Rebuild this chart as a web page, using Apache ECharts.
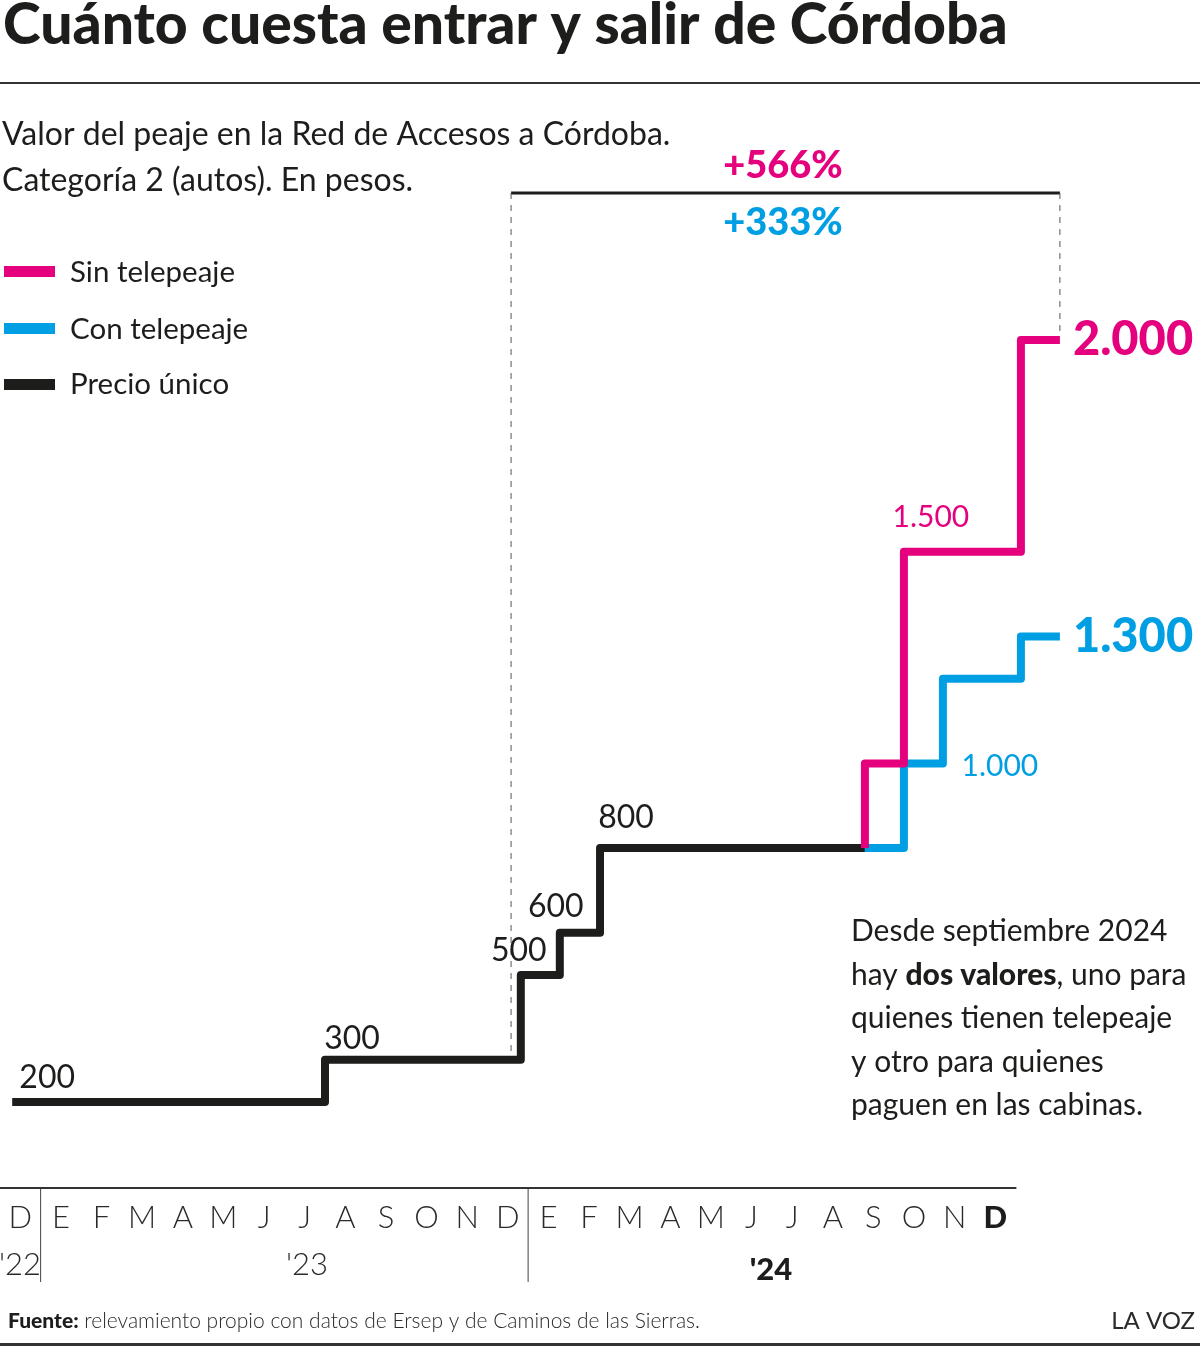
<!DOCTYPE html>
<html>
<head>
<meta charset="utf-8">
<script src="https://cdn.jsdelivr.net/npm/echarts@6/dist/echarts.min.js"></script>
<style>
  html, body { margin: 0; padding: 0; background: #fff; }
  #chart { width: 1200px; height: 1347px; }
</style>
</head>
<body>
<div id="chart"></div>
<script>
// meses: eje x en meses desde el 1 de diciembre de 2022
const months = ['D', 'E', 'F', 'M', 'A', 'M', 'J', 'J', 'A', 'S', 'O', 'N', 'D',
  'E', 'F', 'M', 'A', 'M', 'J', 'J', 'A', 'S', 'O', 'N', 'D']
const years = ["'22", "'23", "'24"]
// índices de mes donde empieza un año nuevo (divisores)
const yearStarts = [1, 13]

// precio único
const unicoX = [0.3, 8.0, 12.82, 13.78, 14.77, 21.29]
const unicoV = [200, 300, 500, 600, 800, 800]
// sin telepeaje
const sinX = [21.29, 21.29, 22.25, 25.13, 26.09]
const sinV = [800, 1000, 1500, 2000, 2000]
// con telepeaje
const conX = [21.29, 22.25, 23.21, 25.13, 26.09]
const conV = [800, 1000, 1200, 1300, 1300]

const MAGENTA = '#e5007d'
const BLUE = '#009fe3'
const BLACK = '#1d1d1b'
const FONT = 'Lato'

// geometría del área de datos
const G = { left: 0, top: 128.4, width: 1096.875, height: 1058.33 }
const X_MAX = 27
const Y_MAX = 2500
const px = (x) => G.left + x / X_MAX * G.width
const py = (v) => G.top + G.height - v / Y_MAX * G.height
// grilla del eje de meses
const M = { left: 0, top: 1150, width: 1015.6, height: 38 }

function fmt (v) {
  return String(v).replace(/\B(?=(\d{3})+(?!\d))/g, '.')
}

function pts (xs, vs, labels) {
  return xs.map((x, i) => {
    const item = { value: [x, vs[i]] }
    if (labels[i]) {
      item.label = Object.assign({ show: true, formatter: fmt(vs[i]) }, labels[i])
    }
    return item
  })
}

const small = (color, dx, dy, size) => ({
  position: 'inside', offset: [dx, dy], color, fontSize: size || 32, fontFamily: FONT, fontWeight: 400
})
const big = (color) => ({
  position: 'right', distance: 13, color, fontSize: 47, fontFamily: FONT, fontWeight: 900
})

const unicoLabels = [small(BLACK, 35, -24), small(BLACK, 27, -21), small(BLACK, -2, -24),
  small(BLACK, -4, -26), small(BLACK, 26, -30)]
const sinLabels = [null, null, small(MAGENTA, 27, -34, 30), null, big(MAGENTA)]
const conLabels = [null, small(BLUE, 96, 3, 30), null, null, big(BLUE)]

const base = unicoV[1]
const pct = (v) => '+' + Math.floor((v / base - 1) * 100) + '%'

const chart = echarts.init(document.getElementById('chart'))

const bx0 = px(12.58)
const bx1 = px(sinX[sinX.length - 1])
const by = 193

const lineSeries = (name, xs, vs, labels, color, z) => ({
  name,
  type: 'line',
  xAxisIndex: 0,
  yAxisIndex: 0,
  step: 'end',
  symbol: 'circle',
  symbolSize: 0.01,
  showSymbol: true,
  z,
  lineStyle: { color, width: 8, join: 'round', cap: 'butt' },
  itemStyle: { color },
  label: { show: false },
  emphasis: { disabled: true },
  data: pts(xs, vs, labels)
})

const dividers = yearStarts.map((i) => {
  const x = M.left + i * M.width / months.length
  return { type: 'line', shape: { x1: x, y1: M.top + M.height, x2: x, y2: 1282 }, style: { stroke: '#444', lineWidth: 1 } }
})

chart.setOption({
  animation: false,
  backgroundColor: '#fff',
  grid: [
    { left: G.left, top: G.top, width: G.width, height: G.height },
    { left: M.left, top: M.top, width: M.width, height: M.height }
  ],
  xAxis: [
    { gridIndex: 0, type: 'value', min: 0, max: X_MAX, show: false },
    {
      gridIndex: 1,
      type: 'category',
      data: months,
      boundaryGap: true,
      axisLine: { lineStyle: { color: '#333', width: 2 } },
      axisTick: { show: false },
      axisLabel: {
        interval: 0,
        margin: 14,
        color: '#2a2a2a',
        fontFamily: FONT,
        fontWeight: 300,
        fontSize: 31,
        formatter: (v, i) => i === months.length - 1 ? '{b|' + v + '}' : v,
        rich: { b: { fontFamily: FONT, fontWeight: 900, fontSize: 31, color: BLACK } }
      }
    }
  ],
  yAxis: [
    { gridIndex: 0, type: 'value', min: 0, max: Y_MAX, show: false },
    { gridIndex: 1, type: 'value', show: false }
  ],
  series: [
    lineSeries('Precio único', unicoX, unicoV, unicoLabels, BLACK, 3),
    lineSeries('Con telepeaje', conX, conV, conLabels, BLUE, 4),
    lineSeries('Sin telepeaje', sinX, sinV, sinLabels, MAGENTA, 5)
  ],
  graphic: dividers.concat([
    // título
    { type: 'text', left: 3, top: -3, style: { text: 'Cuánto cuesta entrar y salir de Córdoba', fill: BLACK, font: '900 57px ' + FONT } },
    { type: 'rect', shape: { x: 0, y: 82, width: 1200, height: 2 }, style: { fill: '#333' } },
    // bajada
    { type: 'text', left: 2, top: 112, style: { text: 'Valor del peaje en la Red de Accesos a Córdoba.\nCategoría 2 (autos). En pesos.', fill: BLACK, font: '400 32px ' + FONT, lineHeight: 46 } },
    // leyenda
    { type: 'rect', shape: { x: 4, y: 266, width: 51, height: 11 }, style: { fill: MAGENTA } },
    { type: 'rect', shape: { x: 4, y: 323, width: 51, height: 11 }, style: { fill: BLUE } },
    { type: 'rect', shape: { x: 4, y: 379, width: 51, height: 11 }, style: { fill: BLACK } },
    { type: 'text', x: 70, y: 272, style: { text: 'Sin telepeaje', fill: BLACK, font: '400 29.5px ' + FONT, verticalAlign: 'middle' } },
    { type: 'text', x: 70, y: 329, style: { text: 'Con telepeaje', fill: BLACK, font: '400 29.5px ' + FONT, verticalAlign: 'middle' } },
    { type: 'text', x: 70, y: 384, style: { text: 'Precio único', fill: BLACK, font: '400 29.5px ' + FONT, verticalAlign: 'middle' } },
    // corchete de variación
    { type: 'line', z: 1, shape: { x1: bx0, y1: by, x2: bx1, y2: by }, style: { stroke: BLACK, lineWidth: 3 } },
    { type: 'line', z: 1, shape: { x1: bx0, y1: by, x2: bx0, y2: py(310) }, style: { stroke: '#555', lineWidth: 1, lineDash: [6, 6] } },
    { type: 'line', z: 1, shape: { x1: bx1, y1: by, x2: bx1, y2: py(2020) }, style: { stroke: '#555', lineWidth: 1, lineDash: [6, 6] } },
    { type: 'text', x: 783, y: 166, style: { text: pct(sinV[sinV.length - 1]), fill: MAGENTA, font: '900 38px ' + FONT, align: 'center', verticalAlign: 'middle' } },
    { type: 'text', x: 783, y: 223, style: { text: pct(conV[conV.length - 1]), fill: BLUE, font: '900 38px ' + FONT, align: 'center', verticalAlign: 'middle' } },
    // nota
    {
      type: 'text',
      left: 851,
      top: 910,
      style: {
        text: 'Desde septiembre 2024\nhay {b|dos valores}, uno para\nquienes tienen telepeaje\ny otro para quienes\npaguen en las cabinas.',
        fill: BLACK,
        font: '400 30px ' + FONT,
        lineHeight: 43.5,
        rich: { b: { fontFamily: FONT, fontWeight: 900, fontSize: 30, lineHeight: 43.5, fill: BLACK } }
      }
    },
    // años
    { type: 'text', x: 20, y: 1265, style: { text: years[0], fill: '#2a2a2a', font: '300 31px ' + FONT, align: 'center', verticalAlign: 'middle' } },
    { type: 'text', x: 307, y: 1265, style: { text: years[1], fill: '#2a2a2a', font: '300 31px ' + FONT, align: 'center', verticalAlign: 'middle' } },
    { type: 'text', x: 771, y: 1270, style: { text: years[2], fill: BLACK, font: '900 31px ' + FONT, align: 'center', verticalAlign: 'middle' } },
    // pie
    {
      type: 'text',
      x: 8,
      y: 1321,
      style: {
        text: '{b|Fuente:} relevamiento propio con datos de Ersep y de Caminos de las Sierras.',
        fill: '#2a2a2a',
        font: '300 21px ' + FONT,
        verticalAlign: 'middle',
        rich: { b: { fontFamily: FONT, fontWeight: 900, fontSize: 21, fill: BLACK } }
      }
    },
    { type: 'text', x: 1195, y: 1321, style: { text: 'LA VOZ', fill: '#2a2a2a', font: '400 24px ' + FONT, align: 'right', verticalAlign: 'middle' } },
    { type: 'rect', shape: { x: 0, y: 1343, width: 1200, height: 3 }, style: { fill: '#333' } }
  ])
})
</script>
</body>
</html>
